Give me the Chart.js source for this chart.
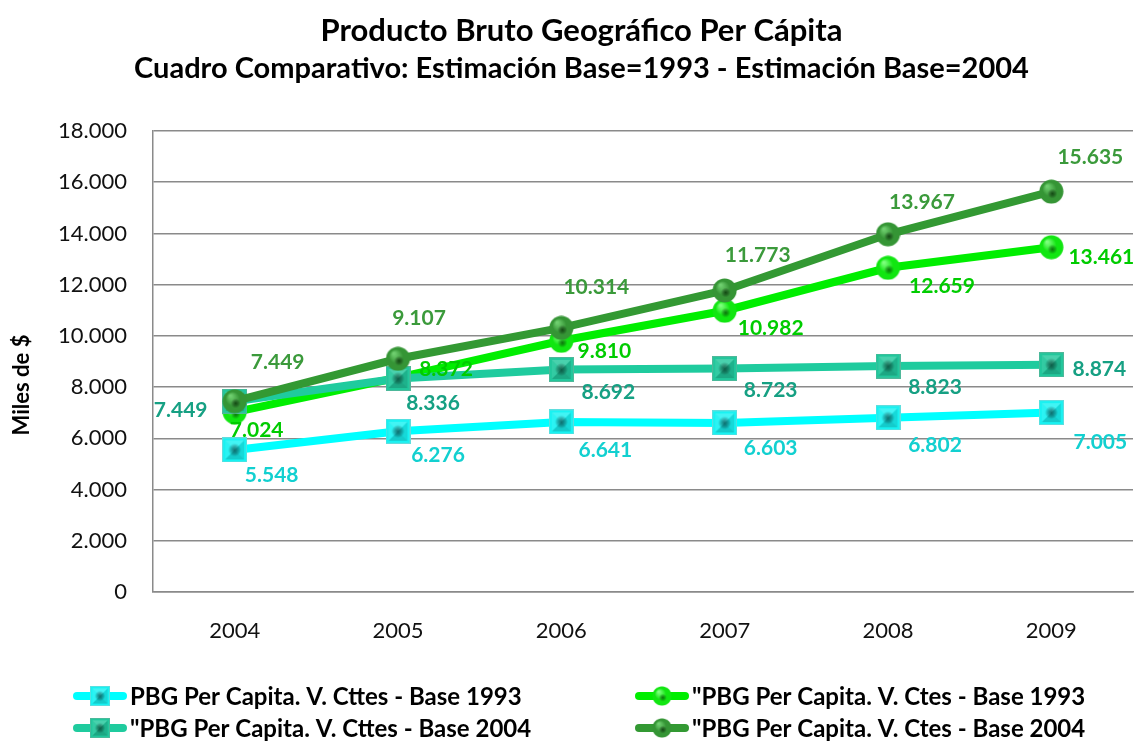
<!DOCTYPE html>
<html><head><meta charset="utf-8">
<script src="https://cdn.jsdelivr.net/npm/chart.js@4.4.0/dist/chart.umd.min.js"></script>
<style>html,body{margin:0;padding:0;background:#fff;overflow:hidden;width:1135px;height:742px}#wrap{width:1135px;height:742px;position:absolute;left:0;top:0}</style>
</head><body><div id="wrap"><canvas id="c"></canvas></div>
<script>
// ---- data ----
const categories = ['2004', '2005', '2006', '2007', '2008', '2009'];
const cttesBase1993 = [5548, 6276, 6641, 6603, 6802, 7005];
const ctesBase1993 = [7024, 8372, 9810, 10982, 12659, 13461];
const cttesBase2004 = [7449, 8336, 8692, 8723, 8823, 8874];
const ctesBase2004 = [7449, 9107, 10314, 11773, 13967, 15635];
const seriesNames = [
  'PBG Per Capita. V. Cttes - Base 1993',
  '"PBG Per Capita. V. Ctes - Base 1993',
  '"PBG Per Capita. V. Cttes - Base 2004',
  '"PBG Per Capita. V. Ctes - Base 2004'
];
const yTickValues = [0, 2000, 4000, 6000, 8000, 10000, 12000, 14000, 16000, 18000];
const titleText = 'Producto Bruto Geográfico Per Cápita';
const subtitleText = 'Cuadro Comparativo: Estimación Base=1993 - Estimación Base=2004';
const yAxisTitle = 'Miles de $';

const FONT = 'Lato, "Open Sans", "Liberation Sans", sans-serif';
function fmt(v) { return String(v).replace(/\B(?=(\d{3})+(?!\d))/g, '.'); }

// ---- marker images ----
function squareMarker(base, edge, dark, size) {
  const c = document.createElement('canvas'); c.width = size; c.height = size;
  const g = c.getContext('2d'); const s = size, m = s / 2;
  g.fillStyle = base; g.fillRect(0, 0, s, s);
  g.strokeStyle = edge; g.lineWidth = 1; g.strokeRect(0.5, 0.5, s - 1, s - 1);
  const tri = (pts, col) => { g.beginPath(); g.moveTo(pts[0], pts[1]); g.lineTo(pts[2], pts[3]); g.lineTo(pts[4], pts[5]); g.closePath(); g.fillStyle = col; g.fill(); };
  const i = 3;
  tri([i, i, s - i, i, m, m], 'rgba(255,255,255,0.18)');
  tri([i, i, i, s - i, m, m], 'rgba(255,255,255,0.08)');
  tri([s - i, i, s - i, s - i, m, m], 'rgba(0,0,0,0.10)');
  tri([i, s - i, s - i, s - i, m, m], 'rgba(0,0,0,0.16)');
  const rg = g.createRadialGradient(m, m, 0, m, m, s * 0.26);
  rg.addColorStop(0, dark); rg.addColorStop(1, 'rgba(0,0,0,0)');
  g.fillStyle = rg; g.fillRect(0, 0, s, s);
  return c;
}
function circleMarker(base, light, dark, size) {
  const c = document.createElement('canvas'); c.width = size; c.height = size;
  const g = c.getContext('2d'); const m = size / 2, r = size / 2 - 0.5;
  const rg = g.createRadialGradient(m - r * 0.35, m - r * 0.45, 1, m, m, r);
  rg.addColorStop(0, light); rg.addColorStop(0.55, base); rg.addColorStop(1, base);
  g.beginPath(); g.arc(m, m, r, 0, Math.PI * 2); g.fillStyle = rg; g.fill();
  const dg = g.createRadialGradient(m + 1, m + 2, 0, m + 1, m + 2, r * 0.4);
  dg.addColorStop(0, dark); dg.addColorStop(1, 'rgba(0,0,0,0)');
  g.fillStyle = dg; g.beginPath(); g.arc(m, m, r, 0, Math.PI * 2); g.fill();
  return c;
}
const markers = [
  squareMarker('#19f2f2', '#5fdede', 'rgba(10,70,70,0.7)', 25),
  circleMarker('#11e611', '#7dff7d', 'rgba(0,60,0,0.65)', 25),
  squareMarker('#22c79c', '#4fb89a', 'rgba(5,60,45,0.7)', 25),
  circleMarker('#359535', '#6fcf6f', 'rgba(0,40,0,0.7)', 25)
];

const lineColors = ['#00ffff', '#00ee00', '#1fcb9e', '#339933'];
const labelColors = ['#12d0d0', '#00cc00', '#16a083', '#3b9a3b'];
const labelDx = [[37, 40, 44, 46, 47, 49], [22, 48, 43, 46, 54, 50], [-54, 35, 47, 46, 47, 48], [43, 21, 35, 33, 34, 39]];
const labelDy = [[25, 24, 28, 25, 27, 30], [18, -8, 10, 17, 18, 10], [9, 25, 23, 22, 21, 5], [-39, -41, -41, -35, -32, -34]];

const allSeries = [cttesBase1993, ctesBase1993, cttesBase2004, ctesBase2004];
const drawOrder = [3, 2, 1, 0];

const datasets = allSeries.map((vals, i) => ({
  label: seriesNames[i],
  data: vals,
  borderColor: lineColors[i],
  backgroundColor: lineColors[i],
  borderWidth: 8,
  pointStyle: markers[i],
  pointRadius: 12,
  pointHoverRadius: 12,
  tension: 0,
  order: drawOrder[i]
}));

const valueLabels = {
  id: 'valueLabels',
  afterDatasetsDraw(chart) {
    const ctx = chart.ctx;
    ctx.save();
    ctx.font = 'bold 21px ' + FONT;
    ctx.textAlign = 'center'; ctx.textBaseline = 'middle';
    chart.data.datasets.forEach((ds, i) => {
      const meta = chart.getDatasetMeta(i);
      meta.data.forEach((pt, j) => {
        ctx.fillStyle = labelColors[i];
        ctx.fillText(fmt(ds.data[j]), pt.x + labelDx[i][j], pt.y + labelDy[i][j]);
      });
    });
    ctx.restore();
  }
};

const yTitlePlugin = {
  id: 'yTitlePlugin',
  afterDraw(chart) {
    const ctx = chart.ctx;
    ctx.save();
    ctx.translate(22, 385);
    ctx.rotate(-Math.PI / 2);
    ctx.font = 'bold 22px ' + FONT;
    ctx.fillStyle = '#000';
    ctx.textAlign = 'center'; ctx.textBaseline = 'middle';
    ctx.fillText(yAxisTitle, 0, 0);
    ctx.restore();
  }
};

const customLegend = {
  id: 'customLegend',
  afterDraw(chart) {
    const ctx = chart.ctx;
    const colX = [100, 662];
    const rowY = [696, 728];
    ctx.save();
    ctx.font = 'bold 24px ' + FONT;
    ctx.textBaseline = 'middle'; ctx.textAlign = 'left';
    chart.data.datasets.forEach((ds, i) => {
      const cx = colX[i % 2], cy = rowY[Math.floor(i / 2)];
      ctx.strokeStyle = ds.borderColor; ctx.lineWidth = 8; ctx.lineCap = 'round';
      ctx.beginPath(); ctx.moveTo(cx - 23, cy); ctx.lineTo(cx + 23, cy); ctx.stroke();
      ctx.drawImage(markers[i], cx - 10, cy - 10, 20, 20);
      ctx.fillStyle = '#000';
      ctx.fillText(ds.label, cx + 30, cy + 1);
    });
    ctx.restore();
  }
};

new Chart(document.getElementById('c'), {
  type: 'line',
  data: { labels: categories, datasets },
  options: {
    responsive: true,
    maintainAspectRatio: false,
    animation: false,
    events: [],
    layout: { autoPadding: false, padding: { left: 30, right: 2, top: 0, bottom: 92 } },
    plugins: {
      legend: { display: false },
      tooltip: { enabled: false },
      title: {
        display: true, text: titleText, color: '#000',
        font: { family: FONT, size: 31, weight: 'bold', lineHeight: 1.0 },
        padding: { top: 15, bottom: 8 }
      },
      subtitle: {
        display: true, text: subtitleText, color: '#000',
        font: { family: FONT, size: 29, weight: 'bold', lineHeight: 1.0 },
        padding: { top: 0, bottom: 48 }
      }
    },
    scales: {
      x: {
        offset: true,
        grid: { display: true, drawOnChartArea: false, drawTicks: true, tickLength: 26, tickColor: 'rgba(0,0,0,0)', color: 'rgba(0,0,0,0)' },
        border: { display: true, color: '#8a8a8a', width: 1.5 },
        ticks: { color: '#111', font: { family: FONT, size: 22 }, padding: 0, maxRotation: 0 },
        afterFit(s) { s.height = 58; s.paddingLeft = 0; s.paddingRight = 0; }
      },
      y: {
        min: 0, max: 18000,
        afterBuildTicks(s) { s.ticks = yTickValues.map(v => ({ value: v })); },
        grid: { color: '#8a8a8a', lineWidth: 1.5, drawTicks: false },
        border: { display: true, color: '#8a8a8a', width: 1.5 },
        ticks: { color: '#111', font: { family: FONT, size: 22 }, padding: 26, callback: v => fmt(v) },
        title: { display: false },
        afterFit(s) { s.width = 123; s.paddingTop = 0; s.paddingBottom = 0; }
      }
    }
  },
  plugins: [valueLabels, yTitlePlugin, customLegend]
});
</script>
</body></html>
